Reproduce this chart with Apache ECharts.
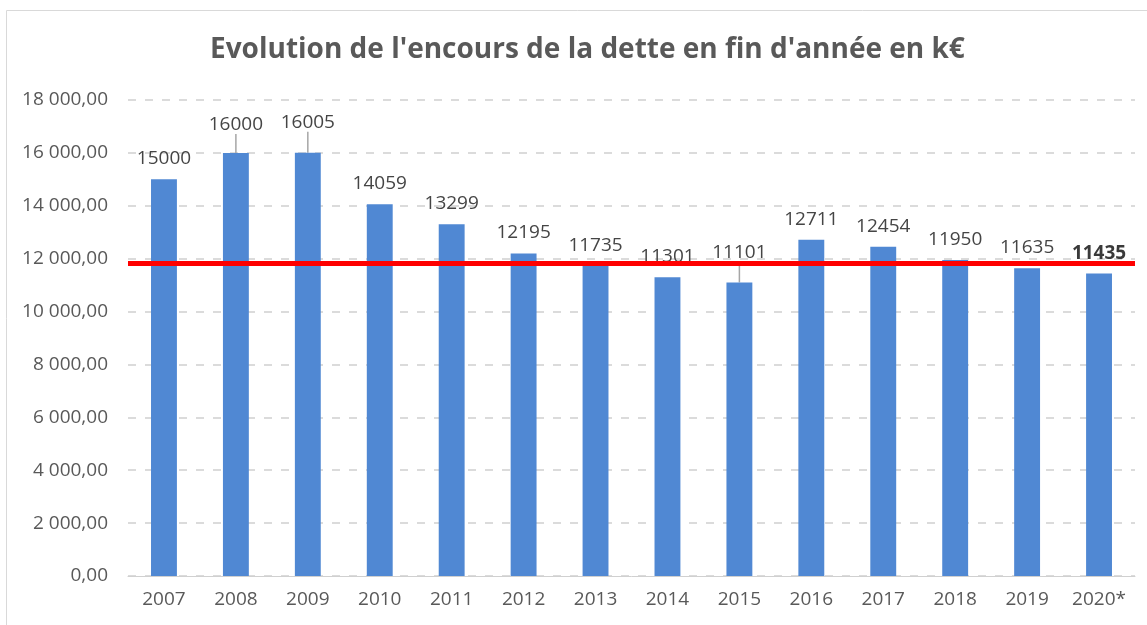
<!DOCTYPE html>
<html>
<head>
<meta charset="utf-8">
<script src="https://cdn.jsdelivr.net/npm/echarts@6/dist/echarts.min.js"></script>
<style>
    html, body { margin: 0; padding: 0; background: #fff; }
    #chart { width: 1147px; height: 625px; }
</style>
</head>
<body>
<div id="chart"></div>
<script>
// données
var years = ['2007', '2008', '2009', '2010', '2011', '2012', '2013', '2014', '2015', '2016', '2017', '2018', '2019', '2020*'];
var encours = [15000, 16000, 16005, 14059, 13299, 12195, 11735, 11301, 11101, 12711, 12454, 11950, 11635, 11435];
var seuil = 11840; // trait rouge
var yTicks = [0, 2000, 4000, 6000, 8000, 10000, 12000, 14000, 16000, 18000];

var font = '"Open Sans", sans-serif';
var grey = '#595959';

// étiquettes décalées avec trait de rappel
var moved = { 1: -8, 2: -10, 8: -9 };

function fmt(v) {
    var s = String(Math.round(v));
    s = s.replace(/\B(?=(\d{3})+(?!\d))/g, ' ');
    return s + ',00';
}

var chart = echarts.init(document.getElementById('chart'));

var barData = encours.map(function (v, i) {
    var item = { value: v };
    if (moved[i] !== undefined) {
        item.labelLine = { show: true };
    }
    if (i === encours.length - 1) {
        item.label = { fontWeight: 'bold', color: '#3a3a3a' };
    }
    return item;
});

chart.setOption({
    animation: false,
    title: {
        text: "Evolution de l'encours de la dette en fin d'année en k€",
        left: 205,
        top: 31,
        textStyle: { fontFamily: font, fontSize: 28, fontWeight: 'bold', color: grey }
    },
    graphic: [{
        type: 'rect',
        shape: { x: 6.5, y: 10.5, width: 1200, height: 700 },
        style: { fill: 'none', stroke: '#d9d9d9', lineWidth: 1 },
        silent: true
    }],
    grid: { left: 128, right: 12, top: 100, bottom: 49 },
    xAxis: {
        type: 'category',
        data: years,
        axisLine: { lineStyle: { color: '#d0d0d0', width: 1 } },
        axisTick: { show: false },
        axisLabel: { fontFamily: font, fontSize: 19, color: grey, margin: 14 }
    },
    yAxis: {
        type: 'value',
        min: yTicks[0],
        max: yTicks[yTicks.length - 1],
        interval: yTicks[1] - yTicks[0],
        axisLine: { show: false },
        axisTick: { show: false },
        axisLabel: { fontFamily: font, fontSize: 19, color: grey, margin: 20, formatter: fmt },
        splitLine: { lineStyle: { color: '#d0d0d0', type: [8, 9], width: 1.5 } }
    },
    series: [{
        type: 'bar',
        data: barData,
        barWidth: '36%',
        itemStyle: { color: '#5088d3' },
        label: {
            show: true,
            position: 'top',
            distance: 11,
            fontFamily: font,
            fontSize: 19,
            color: '#454545'
        },
        labelLine: { lineStyle: { color: '#a6a6a6', width: 1.5 } },
        labelLayout: function (params) {
            var dy = moved[params.dataIndex];
            return dy ? { dy: dy } : {};
        },
        markLine: {
            silent: true,
            symbol: 'none',
            label: { show: false },
            lineStyle: { color: '#ff0000', width: 5, type: 'solid' },
            data: [{ yAxis: seuil }]
        }
    }]
});
</script>
</body>
</html>
